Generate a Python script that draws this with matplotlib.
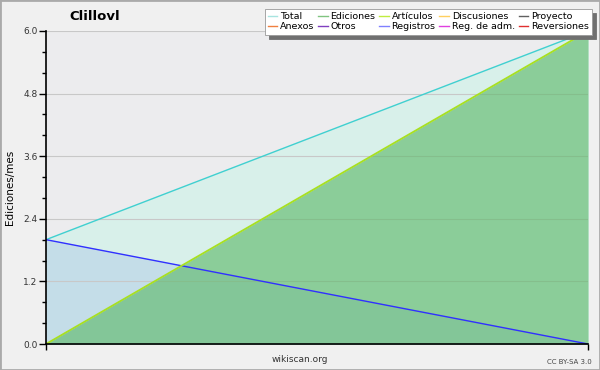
import matplotlib.pyplot as plt

# data
x = [0, 1]
total = [2.0, 6.0]
ediciones = [0.0, 6.0]
articulos = [0.0, 6.0]
registros = [2.0, 0.0]

legend_labels = ['Total', 'Anexos', 'Ediciones', 'Otros', 'Artículos',
                 'Registros', 'Discusiones', 'Reg. de adm.', 'Proyecto', 'Reversiones']
legend_colors = ['#a8e4e0', '#f08040', '#80c480', '#8040c0', '#c0ec40',
                 '#8080ff', '#ffd060', '#e040e0', '#606060', '#e03030']

yticks = [0.0, 1.2, 2.4, 3.6, 4.8, 6.0]

plt.rcParams['font.family'] = ['DejaVu Sans']

fig = plt.figure(figsize=(6, 3.7), dpi=100, facecolor='#f0f0f0')
ax = fig.add_axes([46 / 600, 26 / 370, 542 / 600, 313 / 370])
ax.set_facecolor('#ececee')

# fills
ax.fill_between(x, 0, total, color='#d8f0ea', zorder=1)
ax.fill_between(x, 0, registros, color='#c4dde8', zorder=2)
ax.fill_between(x, 0, ediciones, color='#5cb868', alpha=0.62, lw=0, zorder=3)

# lines
ax.plot(x, total, color='#40d0d0', lw=1.0, zorder=5)
ax.plot(x, registros, color='#3030ff', lw=1.0, zorder=5)
ax.plot(x, articulos, color='#a8e020', lw=1.3, zorder=6)

ax.set_xlim(0, 1)
ax.set_ylim(0, 6.0)
ax.set_yticks(yticks)
ax.set_yticklabels([f'{v:.1f}' for v in yticks], fontsize=6.5, color='#333333')
ax.set_yticks([i * 0.4 for i in range(16)], minor=True)
ax.set_xticks([0, 1])
ax.set_xticklabels([])
ax.tick_params(axis='y', which='major', length=5, width=1, direction='out', pad=1)
ax.tick_params(axis='y', which='minor', length=3, width=1, direction='out')
ax.tick_params(axis='x', length=4, width=1, direction='out')
ax.grid(axis='y', color='#c8c8c8', lw=0.8, zorder=4)
ax.set_axisbelow(False)
for s in ['top', 'right']:
    ax.spines[s].set_visible(False)
for s in ['left', 'bottom']:
    ax.spines[s].set_linewidth(1.2)
    ax.spines[s].set_zorder(7)

ax.set_ylabel('Ediciones/mes', fontsize=7.5, labelpad=6)

fig.text(95 / 600, 1 - 17 / 370, 'Clillovl', fontsize=9.5, fontweight='bold',
         ha='center', va='center')
fig.text(300 / 600, 1 - 360 / 370, 'wikiscan.org', fontsize=6.5,
         ha='center', va='center', color='#333333')
fig.text(592 / 600, 1 - 362 / 370, 'CC BY-SA 3.0', fontsize=5,
         ha='right', va='center', color='#444444')

handles = [plt.Line2D([], [], color=c, lw=1) for c in legend_colors]
leg = fig.legend(handles, legend_labels, ncol=5, loc='upper right',
                 bbox_to_anchor=(592 / 600, 1 - 9 / 370), fontsize=6.8,
                 frameon=True, fancybox=False,
                 shadow={'color': '#707070', 'alpha': 1, 'ox': 3, 'oy': -3},
                 handlelength=1.0, handletextpad=0.3, columnspacing=0.4,
                 labelspacing=0.1, borderpad=0.35, borderaxespad=0)
leg.get_frame().set_edgecolor('#999999')
leg.get_frame().set_linewidth(0.6)

# outer border
fig.patches.append(plt.Rectangle((0, 0), 1, 1, transform=fig.transFigure,
                                 fill=False, edgecolor='#aaaaaa', lw=2))

fig.savefig('out.png', dpi=100, facecolor=fig.get_facecolor())
